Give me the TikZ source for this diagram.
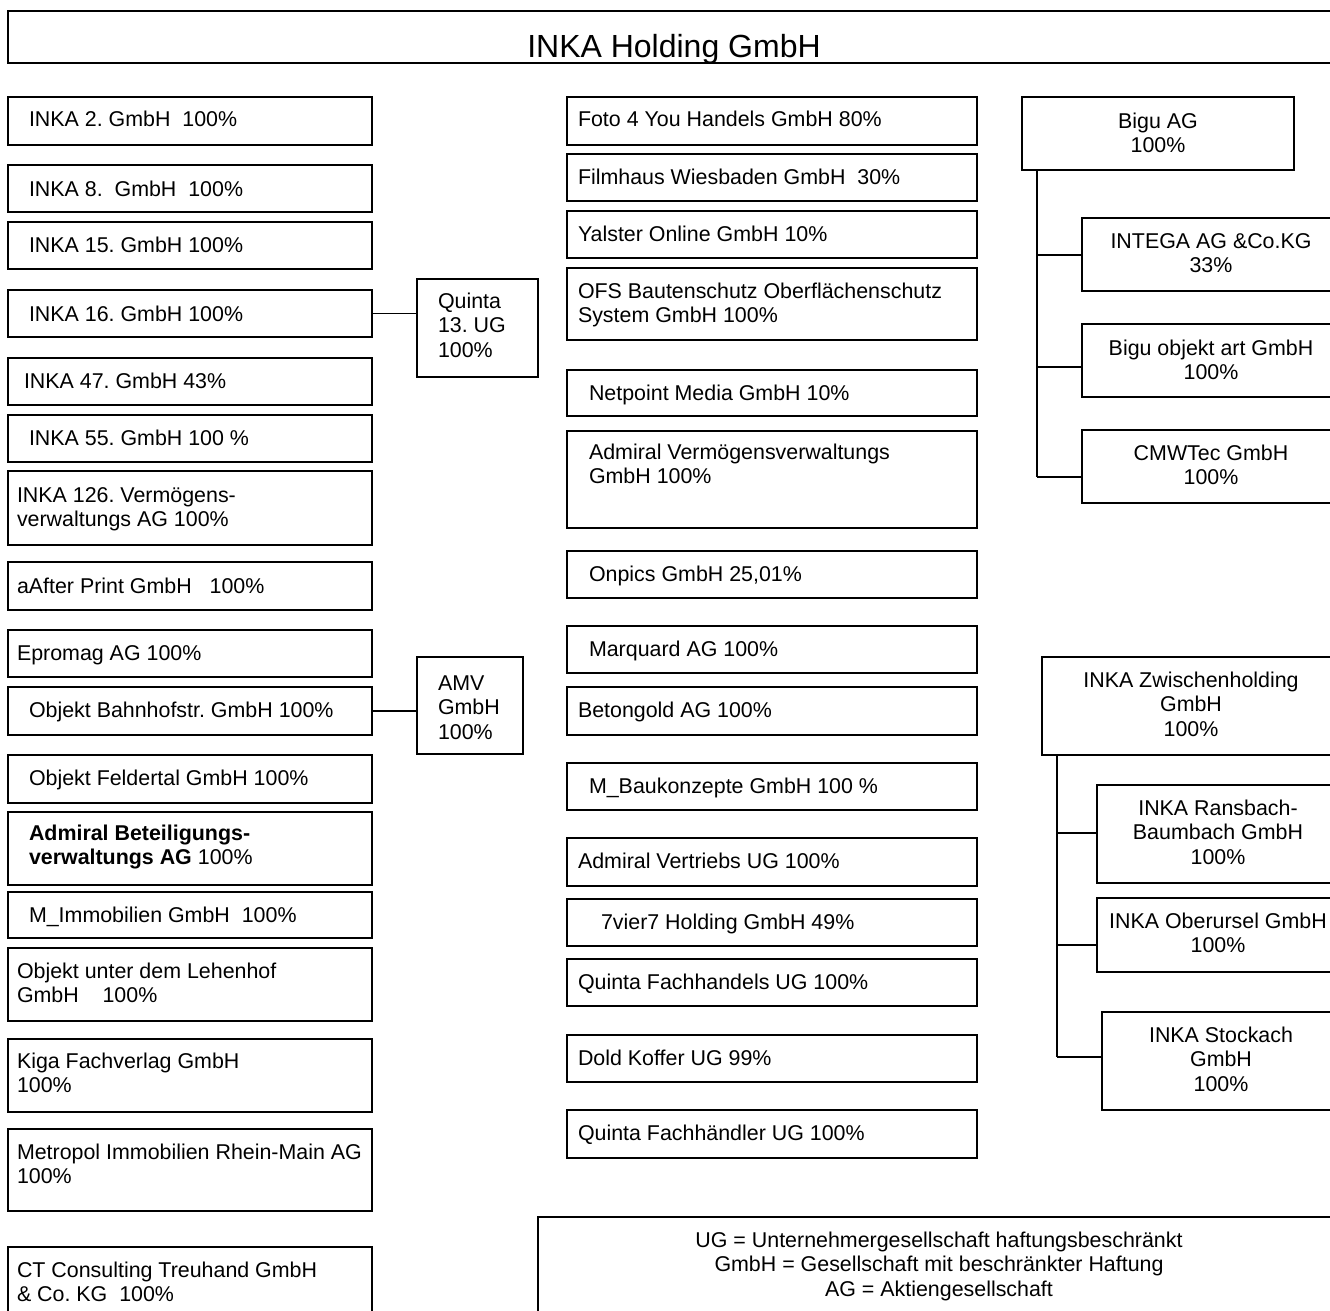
\documentclass[tikz,border=0pt]{standalone}
\usepackage{fontspec}
\setmainfont{Liberation Sans}
\tikzset{
  box/.style={draw, line width=1.6pt, inner sep=0pt, outer sep=0pt, anchor=north west},
  txt/.style={inner sep=0pt, outer sep=0pt, font=\fontsize{21.4}{24.5}\selectfont\frenchspacing, align=left, anchor=base west},
  ctxt/.style={txt, align=center, anchor=base},
  two/.style={yshift=-24.5pt},
  three/.style={yshift=-49pt},
  conn/.style={line width=1.6pt}
}
\newcommand\bx[5]{\node[box, minimum width={#4-#2}, minimum height={#5-#3}] (#1) at (#2,#3) {};}
\begin{document}
\frenchspacing
\begin{tikzpicture}[x=1pt,y=-1pt]
\useasboundingbox (0,0) rectangle (1330,1311);
\fill[white] (0,0) rectangle (1330,1311);
\clip (0,0) rectangle (1330,1311);

% title
\bx{title}{8}{11}{1340}{63}
\begin{scope}
\clip (8,11) rectangle (1340,63);
\node[ctxt, font=\fontsize{32}{36}\selectfont] (titlet) at (674,58) {INKA Holding GmbH};
\end{scope}

% left column
\bx{l1}{8}{97}{372}{145}   \node[txt] (l1t) at (29,127) {INKA 2. GmbH\ \ 100\%};
\bx{l2}{8}{165}{372}{212}  \node[txt] (l2t) at (29,196) {INKA 8.\ \ GmbH\ \ 100\%};
\bx{l3}{8}{222}{372}{269}  \node[txt] (l3t) at (29,252) {INKA 15. GmbH 100\%};
\bx{l4}{8}{290}{372}{337}  \node[txt] (l4t) at (29,321) {INKA 16. GmbH 100\%};
\bx{l5}{8}{358}{372}{405}  \node[txt] (l5t) at (24,388) {INKA 47. GmbH 43\%};
\bx{l6}{8}{415}{372}{462}  \node[txt] (l6t) at (29,445) {INKA 55. GmbH 100 \%};
\bx{l7}{8}{471}{372}{545}  \node[txt, two] (l7t) at (17,502) {INKA 126. Vermögens-\\verwaltungs AG 100\%};
\bx{l8}{8}{562}{372}{610}  \node[txt] (l8t) at (17,593) {aAfter Print GmbH\ \ \ 100\%};
\bx{l9}{8}{630}{372}{677}  \node[txt] (l9t) at (17,660) {Epromag AG 100\%};
\bx{l10}{8}{687}{372}{735} \node[txt] (l10t) at (29,717) {Objekt Bahnhofstr. GmbH 100\%};
\bx{l11}{8}{755}{372}{803} \node[txt] (l11t) at (29,785) {Objekt Feldertal GmbH 100\%};
\bx{l12}{8}{812}{372}{885} \node[txt, two] (l12t) at (29,840) {\textbf{Admiral Beteiligungs-}\\\textbf{verwaltungs AG} 100\%};
\bx{l13}{8}{892}{372}{938} \node[txt] (l13t) at (29,922) {M\_Immobilien GmbH\ \ 100\%};
\bx{l14}{8}{948}{372}{1021} \node[txt, two] (l14t) at (17,978) {Objekt unter dem Lehenhof\\GmbH\ \ \ \ 100\%};
\bx{l15}{8}{1039}{372}{1112} \node[txt, two] (l15t) at (17,1068) {Kiga Fachverlag GmbH\\100\%};
\bx{l16}{8}{1129}{372}{1211} \node[txt, two] (l16t) at (17,1159) {Metropol Immobilien Rhein-Main AG\\100\%};
\bx{l17}{8}{1247}{372}{1330} \node[txt, two] (l17t) at (17,1277) {CT Consulting Treuhand GmbH\\\& Co. KG\ \ 100\%};

% sub boxes of left column
\bx{quinta}{417}{279}{538}{377} \node[txt, three] (quintat) at (438,308) {Quinta\\13. UG\\100\%};
\bx{amv}{417}{657}{523}{754}    \node[txt, three] (amvt) at (438,690) {AMV\\GmbH\\100\%};
\draw[conn] (l4.east) -- (l4.east -| quinta.west);
\draw[conn] (l10.east) -- (l10.east -| amv.west);

% middle column
\bx{m1}{567}{97}{977}{145}   \node[txt] (m1t) at (578,127) {Foto 4 You Handels GmbH 80\%};
\bx{m2}{567}{154}{977}{201}  \node[txt] (m2t) at (578,184) {Filmhaus Wiesbaden GmbH\ \ 30\%};
\bx{m3}{567}{211}{977}{258}  \node[txt] (m3t) at (578,241) {Yalster Online GmbH 10\%};
\bx{m4}{567}{268}{977}{340}  \node[txt, two] (m4t) at (578,298) {OFS Bautenschutz Oberflächenschutz\\System GmbH 100\%};
\bx{m5}{567}{370}{977}{416}  \node[txt] (m5t) at (589,400) {Netpoint Media GmbH 10\%};
\bx{m6}{567}{431}{977}{528}  \node[txt, two] (m6t) at (589,459) {Admiral Vermögensverwaltungs\\GmbH 100\%};
\bx{m7}{567}{551}{977}{598}  \node[txt] (m7t) at (589,581) {Onpics GmbH 25,01\%};
\bx{m8}{567}{626}{977}{673}  \node[txt] (m8t) at (589,656) {Marquard AG 100\%};
\bx{m9}{567}{687}{977}{735}  \node[txt] (m9t) at (578,717) {Betongold AG 100\%};
\bx{m10}{567}{763}{977}{810} \node[txt] (m10t) at (589,793) {M\_Baukonzepte GmbH 100 \%};
\bx{m11}{567}{838}{977}{886} \node[txt] (m11t) at (578,868) {Admiral Vertriebs UG 100\%};
\bx{m12}{567}{899}{977}{946} \node[txt] (m12t) at (601,929) {7vier7 Holding GmbH 49\%};
\bx{m13}{567}{959}{977}{1006} \node[txt] (m13t) at (578,989) {Quinta Fachhandels UG 100\%};
\bx{m14}{567}{1035}{977}{1082} \node[txt] (m14t) at (578,1065) {Dold Koffer UG 99\%};
\bx{m15}{567}{1110}{977}{1158} \node[txt] (m15t) at (578,1140) {Quinta Fachhändler UG 100\%};

% right column: Bigu
\bx{bigu}{1022}{97}{1294}{170}    \node[ctxt, two] (bigut) at (1158,128) {Bigu AG\\100\%};
\bx{intega}{1082}{218}{1340}{291} \node[ctxt, two] (integat) at (1211,248) {INTEGA AG \&Co.KG\\33\%};
\bx{bigobj}{1082}{324}{1340}{397} \node[ctxt, two] (bigobjt) at (1211,355) {Bigu objekt art GmbH\\100\%};
\bx{cmw}{1082}{430}{1340}{503}    \node[ctxt, two] (cmwt) at (1211,460) {CMWTec GmbH\\100\%};
\coordinate (bt0) at (1037,170);
\coordinate (bt1) at (1037,255);
\coordinate (bt2) at (1037,367);
\coordinate (bt3) at (1037,477);
\draw[conn] (bt0) -- (bt3);
\draw[conn] (bt1) -- (bt1 -| intega.west);
\draw[conn] (bt2) -- (bt2 -| bigobj.west);
\draw[conn] (bt3) -- (bt3 -| cmw.west);

% right column: Zwischenholding
\bx{zwi}{1042}{657}{1340}{755}     \node[ctxt, three] (zwit) at (1191,687) {INKA Zwischenholding\\GmbH\\100\%};
\bx{rans}{1097}{785}{1340}{883}    \node[ctxt, three] (ranst) at (1218,815) {INKA Ransbach-\\Baumbach GmbH\\100\%};
\bx{ober}{1097}{898}{1340}{972}    \node[ctxt, two] (obert) at (1218,928) {INKA Oberursel GmbH\\100\%};
\bx{stock}{1102}{1012}{1340}{1110} \node[ctxt, three] (stockt) at (1221,1042) {INKA Stockach\\GmbH\\100\%};
\coordinate (zt0) at (1057,755);
\coordinate (zt1) at (1057,833);
\coordinate (zt2) at (1057,945);
\coordinate (zt3) at (1057,1057);
\draw[conn] (zt0) -- (zt3);
\draw[conn] (zt1) -- (zt1 -| rans.west);
\draw[conn] (zt2) -- (zt2 -| ober.west);
\draw[conn] (zt3) -- (zt3 -| stock.west);

% legend
\bx{legend}{538}{1217}{1340}{1330}
\node[ctxt, three] (legendt) at (939,1247) {UG = Unternehmergesellschaft haftungsbeschränkt\\GmbH = Gesellschaft mit beschränkter Haftung\\AG = Aktiengesellschaft};
\end{tikzpicture}
\end{document}
